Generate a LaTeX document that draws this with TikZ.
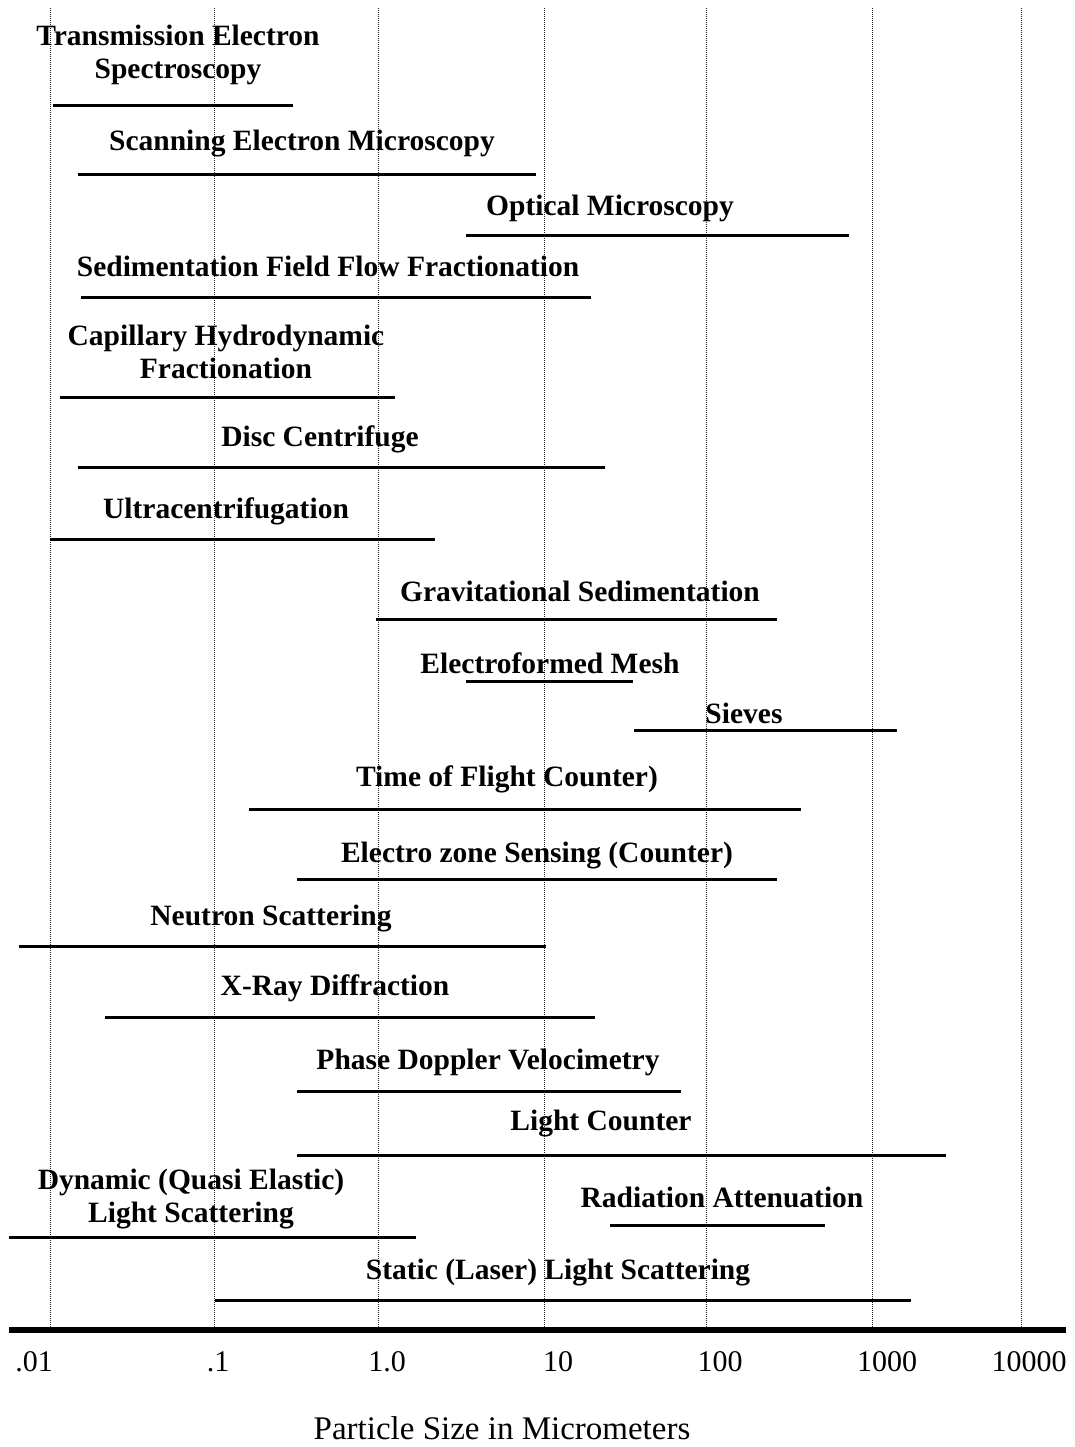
\documentclass[tikz,border=0pt]{standalone}
\usepackage{fontspec}
\setmainfont{Liberation Serif}
\definecolor{gridgray}{HTML}{222222}

\begin{document}
\begin{tikzpicture}[x=0.5pt,y=-0.5pt,
  sizebar/.style={line width=1.5pt},
  method/.style={font=\bfseries\fontsize{14.75}{16.5}\selectfont,align=center,inner sep=0pt},
  ticklabel/.style={font=\fontsize{15}{18}\selectfont,inner sep=0pt}]
\useasboundingbox (0,0) rectangle (1075,1447);
% decade grid
\foreach \gx in {50,214,378,544,706,872,1021}
  \draw[gridgray,line width=0.5pt,dash pattern=on 0.5pt off 0.5pt] (\gx,8) -- (\gx,1330);
% methods
\node[method] (tem) at (178,55) {Transmission Electron\\Spectroscopy};
\draw[sizebar] (53,105) -- (293,105);
\node[method] (sem) at (302,144) {Scanning Electron Microscopy};
\draw[sizebar] (77.5,174) -- (536,174);
\node[method] (optic) at (610,208) {Optical Microscopy};
\draw[sizebar] (466,235) -- (849,235);
\node[method] (sfff) at (328,266) {Sedimentation Field Flow Fractionation};
\draw[sizebar] (81,297) -- (591,297);
\node[method] (chf) at (226,352) {Capillary Hydrodynamic\\Fractionation};
\draw[sizebar] (60,397) -- (395,397);
\node[method] (disc) at (320,439) {Disc Centrifuge};
\draw[sizebar] (77.5,467) -- (605,467);
\node[method] (ultra) at (226,511) {Ultracentrifugation};
\draw[sizebar] (50,539) -- (435,539);
\node[method] (grav) at (580,591) {Gravitational Sedimentation};
\draw[sizebar] (376,619) -- (777,619);
\node[method] (mesh) at (550,663) {Electroformed Mesh};
\draw[sizebar] (466,681) -- (633,681);
\node[method] (sieve) at (744,713) {Sieves};
\draw[sizebar] (634,730) -- (897,730);
\node[method] (tof) at (507,779) {Time of Flight Counter)};
\draw[sizebar] (249,809) -- (801,809);
\node[method] (ezs) at (537,856) {Electro zone Sensing (Counter)};
\draw[sizebar] (297,879) -- (777,879);
\node[method] (neutron) at (271,919) {Neutron Scattering};
\draw[sizebar] (18.5,946) -- (546,946);
\node[method] (xrd) at (335,988) {X-Ray Diffraction};
\draw[sizebar] (105,1017) -- (595,1017);
\node[method] (pdv) at (488,1062) {Phase Doppler Velocimetry};
\draw[sizebar] (297,1091) -- (681,1091);
\node[method] (lcount) at (601,1124) {Light Counter};
\draw[sizebar] (297,1155) -- (946,1155);
\node[method] (dls) at (191,1199) {Dynamic (Quasi Elastic)\\Light Scattering};
\draw[sizebar] (9,1237) -- (416,1237);
\node[method] (radatt) at (722,1197) {Radiation Attenuation};
\draw[sizebar] (610,1225) -- (825,1225);
\node[method] (sls) at (558,1273) {Static (Laser) Light Scattering};
\draw[sizebar] (215,1300) -- (911,1300);
% size axis
\draw[line width=3pt] (9,1330) -- (1066,1330);
\foreach \gx/\lab [count=\i] in {34/.01,218/.1,387/1.0,558/10,720/100,887/1000,1029/10000}
  \node[ticklabel] (tick\i) at (\gx,1362) {\lab};
\node[font=\fontsize{16.5}{20}\selectfont,inner sep=0pt] (xlabel) at (502,1428) {Particle Size in Micrometers};
\end{tikzpicture}
\end{document}
